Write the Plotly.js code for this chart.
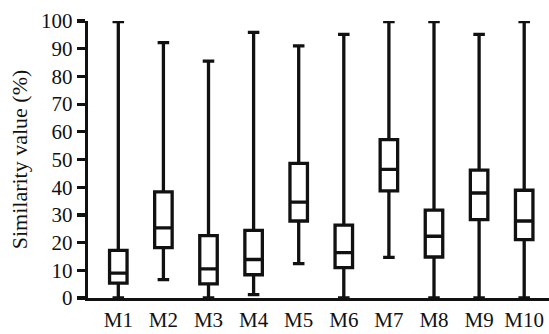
<!DOCTYPE html>
<html>
<head>
<meta charset="utf-8">
<script src="https://cdn.plot.ly/plotly-3.0.1.min.js"></script>
<style>html,body{margin:0;padding:0;background:#fff;}#chart{width:549px;height:334px;}</style>
</head>
<body>
<div id="chart"></div>
<script>
var categories = ["M1","M2","M3","M4","M5","M6","M7","M8","M9","M10"];
var lowerFence = [0, 6.6, 0, 1.2, 12.4, 0, 14.7, 0, 0, 0];
var q1Values = [5.4, 18.2, 5.1, 8.4, 27.8, 11.0, 38.7, 14.8, 28.3, 21.1];
var medianValues = [9.0, 25.3, 10.5, 13.9, 34.6, 16.4, 46.4, 22.3, 37.9, 27.8];
var q3Values = [17.2, 38.3, 22.5, 24.4, 48.6, 26.3, 57.2, 31.7, 46.2, 38.9];
var upperFence = [99.8, 92.2, 85.5, 95.9, 91.0, 95.2, 99.8, 99.8, 95.2, 99.8];
var yTicks = [0,10,20,30,40,50,60,70,80,90,100];

var trace = {
  type: "box",
  x: categories,
  q1: q1Values,
  median: medianValues,
  q3: q3Values,
  lowerfence: lowerFence,
  upperfence: upperFence,
  boxpoints: false,
  fillcolor: "rgba(255,255,255,0)",
  line: {color: "#111111", width: 3.3},
  whiskerwidth: 0.66
};
var layout = {
  width: 549, height: 334,
  margin: {l: 88, r: 0, t: 21, b: 36},
  showlegend: false,
  boxgap: 0.446,
  font: {family: "Liberation Serif", size: 21, color: "#111111"},
  xaxis: {
    type: "category",
    range: [-0.672, 9.55],
    showline: true, linecolor: "#111111", linewidth: 3.4,
    showgrid: false, zeroline: false,
    ticks: "",
    tickfont: {family: "Liberation Serif", size: 21}
  },
  yaxis: {
    range: [0, 100],
    tickvals: yTicks,
    showline: true, linecolor: "#111111", linewidth: 3.4,
    showgrid: false, zeroline: false,
    ticks: "outside", ticklen: 8, tickwidth: 3.2, tickcolor: "#111111",
    tickfont: {family: "Liberation Serif", size: 21},
    title: {text: "Similarity value (%)", font: {family: "Liberation Serif", size: 22}, standoff: 8}
  }
};
Plotly.newPlot("chart", [trace], layout, {staticPlot: true});
</script>
</body>
</html>
